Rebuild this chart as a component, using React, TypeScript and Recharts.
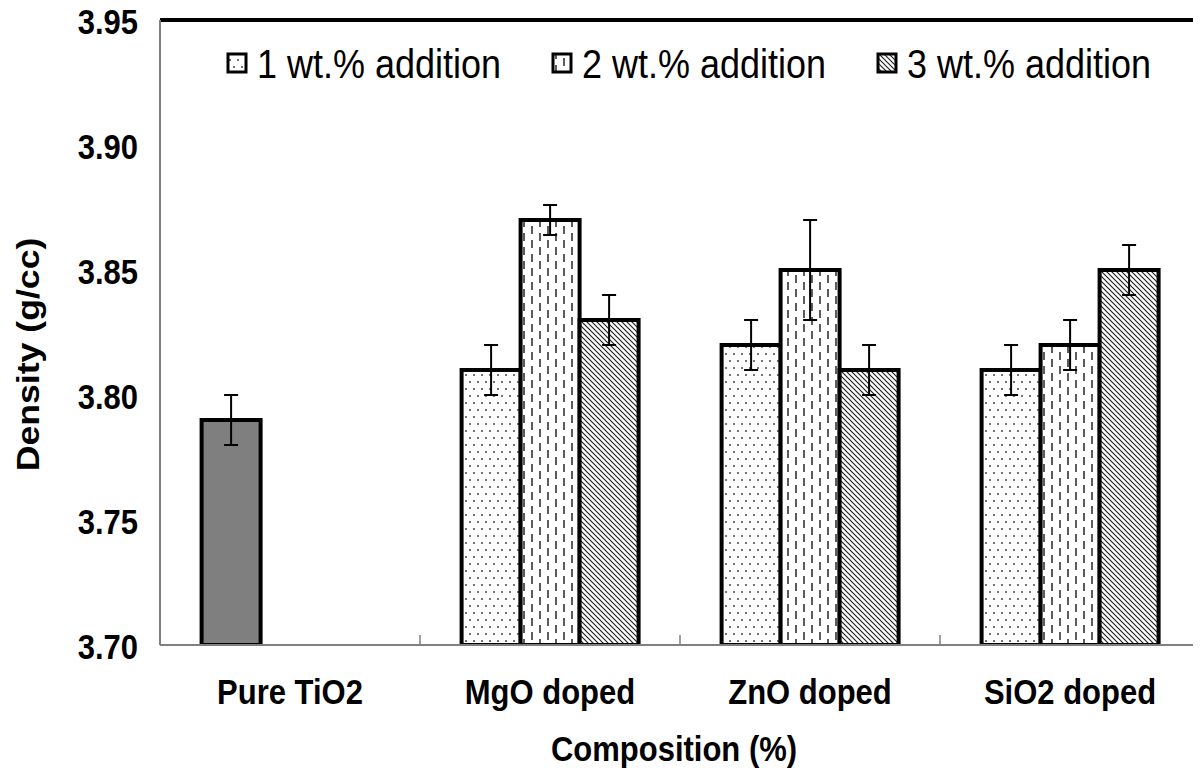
import React from 'react';
import { BarChart, Bar, XAxis, YAxis, ErrorBar, Cell, Legend, ReferenceLine, Label } from 'recharts';

// Sample groups and mean densities (g/cc) with their error half-widths
const categories = ['Pure TiO2', 'MgO doped', 'ZnO doped', 'SiO2 doped'];
const seriesNames = ['1 wt.% addition', '2 wt.% addition', '3 wt.% addition'];
const wt1 = [3.79, 3.81, 3.82, 3.81];
const wt1Err = [0.01, 0.01, 0.01, 0.01];
const wt2 = [null, 3.87, 3.85, 3.82];
const wt2Err = [null, 0.006, 0.02, 0.01];
const wt3 = [null, 3.83, 3.81, 3.85];
const wt3Err = [null, 0.01, 0.01, 0.01];
const yTicks = [3.7, 3.75, 3.8, 3.85, 3.9, 3.95];

const data = categories.map((name, i) => ({
  name,
  w1: wt1[i],
  e1: wt1Err[i],
  w2: wt2[i],
  e2: wt2Err[i],
  w3: wt3[i],
  e3: wt3Err[i],
}));

const FONT = '"Liberation Sans", Arial, Helvetica, sans-serif';
const STRETCH = 1.15;
const patternIds = ['pDots', 'pDash', 'pHatch'];
const PURE_FILL = '#7f7f7f';

const YTick = (props: any) => {
  const { x, y, payload } = props;
  return (
    <text
      transform={`translate(${x},${y}) scale(1,${STRETCH})`}
      textAnchor="end"
      dy="0.38em"
      fontFamily={FONT}
      fontWeight="bold"
      fontSize={31}
      fill="#000"
    >
      {Number(payload.value).toFixed(2)}
    </text>
  );
};

const XTick = (props: any) => {
  const { x, y, payload, index } = props;
  const half = typeof payload.offset === 'number' ? payload.offset : 0;
  return (
    <g>
      {index > 0 && half > 0 && (
        <line x1={x - half} x2={x - half} y1={y} y2={y - 10} stroke="#808080" strokeWidth={1.5} />
      )}
      <text
        transform={`translate(${x},${y + 59}) scale(1,${STRETCH})`}
        textAnchor="middle"
        fontFamily={FONT}
        fontWeight="bold"
        fontSize={31}
        fill="#000"
      >
        {payload.value}
      </text>
    </g>
  );
};

const LegendBox = () => (
  <svg width={1193} height={80} style={{ display: 'block' }}>
    {seriesNames.map((name, i) => {
      const x0 = 220 + i * 325;
      return (
        <g key={name}>
          <rect x={x0} y={46} width={18} height={18} fill={`url(#${patternIds[i]})`} stroke="#000" strokeWidth={3} />
          <text
            transform={`translate(${x0 + 29},55) scale(1,${STRETCH})`}
            dy="0.36em"
            fontFamily={FONT}
            fontSize={36}
            fill="#000"
          >
            {name}
          </text>
        </g>
      );
    })}
  </svg>
);

const XAxisTitle = (props: any) => {
  const { viewBox } = props;
  const cx = viewBox.x + viewBox.width / 2 - 6;
  const cy = viewBox.y + 116;
  return (
    <text
      transform={`translate(${cx},${cy}) scale(1,${STRETCH})`}
      textAnchor="middle"
      fontFamily={FONT}
      fontWeight="bold"
      fontSize={31}
      fill="#000"
    >
      Composition (%)
    </text>
  );
};

const YAxisTitle = (props: any) => {
  const { viewBox } = props;
  const cx = viewBox.x + 20;
  const cy = viewBox.y + viewBox.height / 2 + 22;
  return (
    <text
      transform={`translate(${cx},${cy}) scale(1,${STRETCH}) rotate(-90)`}
      textAnchor="middle"
      dominantBaseline="central"
      fontFamily={FONT}
      fontWeight="bold"
      fontSize={31}
      fill="#000"
    >
      Density (g/cc)
    </text>
  );
};

export default function App() {
  return (
    <div style={{ position: 'relative', width: 1193, height: 763, background: '#fff' }}>
      <style>{'.recharts-surface { overflow: visible; }'}</style>
      <svg width={0} height={0} style={{ position: 'absolute' }}>
        <defs>
          <pattern id="pDots" width={8} height={14} patternUnits="userSpaceOnUse">
            <rect width={8} height={14} fill="#fff" />
            <circle cx={2} cy={3} r={1} fill="#444" />
            <circle cx={6} cy={10} r={1} fill="#444" />
          </pattern>
          <pattern id="pDash" width={16} height={14} patternUnits="userSpaceOnUse">
            <rect width={16} height={14} fill="#fff" />
            <line x1={4} y1={1} x2={4} y2={9} stroke="#333" strokeWidth={1.6} />
            <line x1={12} y1={8} x2={12} y2={16} stroke="#333" strokeWidth={1.6} />
            <line x1={12} y1={-6} x2={12} y2={2} stroke="#333" strokeWidth={1.6} />
          </pattern>
          <pattern id="pHatch" width={5} height={5} patternUnits="userSpaceOnUse">
            <rect width={5} height={5} fill="#fff" />
            <path d="M0,0 L5,5 M-1,4 L1,6 M4,-1 L6,1" stroke="#222" strokeWidth={1.2} />
          </pattern>
        </defs>
      </svg>
      <BarChart
        width={1193}
        height={763}
        data={data}
        margin={{ top: 12, right: 1, left: 0, bottom: 0 }}
        barCategoryGap="16%"
        barGap={0}
      >
        <XAxis
          dataKey="name"
          height={126}
          tickLine={false}
          tickSize={0}
          tickMargin={0}
          axisLine={{ stroke: '#808080', strokeWidth: 2 }}
          tick={<XTick />}
          interval={0}
        >
          <Label content={<XAxisTitle />} />
        </XAxis>
        <YAxis
          domain={[3.7, 3.95]}
          ticks={yTicks}
          width={152}
          tickLine={false}
          tickSize={0}
          tickMargin={22}
          axisLine={{ stroke: '#808080', strokeWidth: 2 }}
          tick={<YTick />}
          allowDataOverflow
        >
          <Label content={<YAxisTitle />} />
        </YAxis>
        <ReferenceLine y={3.95} stroke="#000" strokeWidth={4} />
        <Legend
          content={<LegendBox />}
          layout="horizontal"
          verticalAlign="middle"
          align="center"
          width={1193}
          wrapperStyle={{ top: 0, left: 0 }}
        />
        <Bar dataKey="w1" name={seriesNames[0]} fill="url(#pDots)" stroke="#000" strokeWidth={4} isAnimationActive={false}>
          {data.map((d, i) => (
            <Cell key={d.name} fill={i === 0 ? PURE_FILL : 'url(#pDots)'} />
          ))}
          <ErrorBar dataKey="e1" width={7} stroke="#000" strokeWidth={2} />
        </Bar>
        <Bar dataKey="w2" name={seriesNames[1]} fill="url(#pDash)" stroke="#000" strokeWidth={4} isAnimationActive={false}>
          <ErrorBar dataKey="e2" width={7} stroke="#000" strokeWidth={2} />
        </Bar>
        <Bar dataKey="w3" name={seriesNames[2]} fill="url(#pHatch)" stroke="#000" strokeWidth={4} isAnimationActive={false}>
          <ErrorBar dataKey="e3" width={7} stroke="#000" strokeWidth={2} />
        </Bar>
      </BarChart>
    </div>
  );
}
